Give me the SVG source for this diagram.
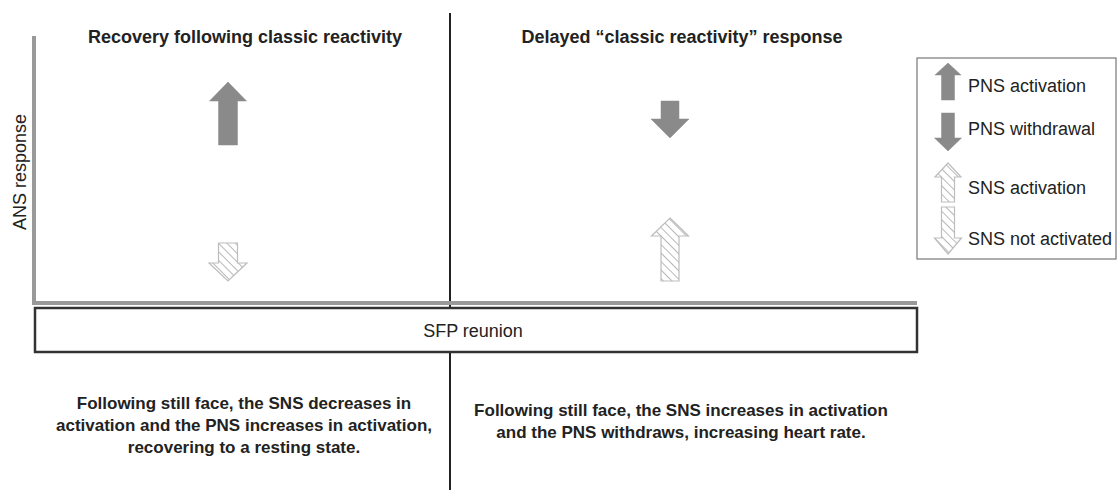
<svg xmlns="http://www.w3.org/2000/svg" width="1118" height="493" viewBox="0 0 1118 493">
<defs>
<pattern id="hatch" patternUnits="userSpaceOnUse" width="6" height="6" patternTransform="rotate(-45)">
<rect width="6" height="6" fill="#fff"/>
<line x1="0" y1="0" x2="0" y2="6" stroke="#b8b8b8" stroke-width="2"/>
</pattern>
</defs>
<style>
text{font-family:"Liberation Sans",Arial,sans-serif;fill:#222}
.t{font-size:18px;font-weight:bold}
.b{font-size:17px;font-weight:bold}
.r{font-size:18px}
.solid{fill:#8a8a8a;stroke:#8a8a8a;stroke-width:0.5}
.hat{fill:url(#hatch);stroke:#bdbdbd;stroke-width:1.2}
.axis{stroke:#999;stroke-width:4;fill:none}
</style>
<g id="connectors">
<line x1="450" y1="13" x2="450" y2="490" stroke="#222" stroke-width="2"/>
<line class="axis" x1="34" y1="36" x2="34" y2="305"/>
<line class="axis" x1="32" y1="303" x2="917" y2="303"/>
</g>
<g id="sfp-reunion">
<rect x="35" y="308" width="882" height="44" fill="#fff" stroke="#333" stroke-width="2.5"/>
<text class="r" x="473" y="337" text-anchor="middle">SFP reunion</text>
</g>
<g id="axis-label">
<text class="r" transform="translate(26,172) rotate(-90)" text-anchor="middle">ANS response</text>
</g>
<g id="left-title"><text class="t" x="245" y="43" text-anchor="middle">Recovery following classic reactivity</text></g>
<g id="right-title"><text class="t" x="682" y="43" text-anchor="middle">Delayed “classic reactivity” response</text></g>
<g id="left-pns"><polygon class="solid" points="228,82 246.5,101 237.5,101 237.5,145 218.5,145 218.5,101 209.5,101"/></g>
<g id="left-sns"><polygon class="hat" points="218.5,243 237.5,243 237.5,263 247,263 228,281 209,263 218.5,263"/></g>
<g id="right-pns"><polygon class="solid" points="661,101 679,101 679,119 689,119 670,138 651,119 661,119"/></g>
<g id="right-sns"><polygon class="hat" points="670,218 688.5,236 679,236 679,281 661,281 661,236 651.5,236"/></g>
<g id="left-text">
<text class="b" text-anchor="middle" x="244" y="409">Following still face, the SNS decreases in</text>
<text class="b" text-anchor="middle" x="244" y="431">activation and the PNS increases in activation,</text>
<text class="b" text-anchor="middle" x="244" y="453">recovering to a resting state.</text>
</g>
<g id="right-text">
<text class="b" text-anchor="middle" x="681" y="416">Following still face, the SNS increases in activation</text>
<text class="b" text-anchor="middle" x="681" y="438">and the PNS withdraws, increasing heart rate.</text>
</g>
<g id="legend">
<rect x="917" y="58" width="199" height="201" fill="#fff" stroke="#777" stroke-width="1.2"/>
<polygon class="solid" points="948,63 961,75 954.5,75 954.5,100 941.5,100 941.5,75 935,75"/>
<text class="r" x="968" y="92">PNS activation</text>
<polygon class="solid" points="941.5,113 954.5,113 954.5,138 961.5,138 948,151 934.5,138 941.5,138"/>
<text class="r" x="968" y="135">PNS withdrawal</text>
<polygon class="hat" points="948,163 961,177 954.5,177 954.5,202 941.5,202 941.5,177 935,177"/>
<text class="r" x="968" y="194">SNS activation</text>
<polygon class="hat" points="941.5,207 954.5,207 954.5,238 961.5,238 948,254 934.5,238 941.5,238"/>
<text class="r" x="968" y="245">SNS not activated</text>
</g>
</svg>
